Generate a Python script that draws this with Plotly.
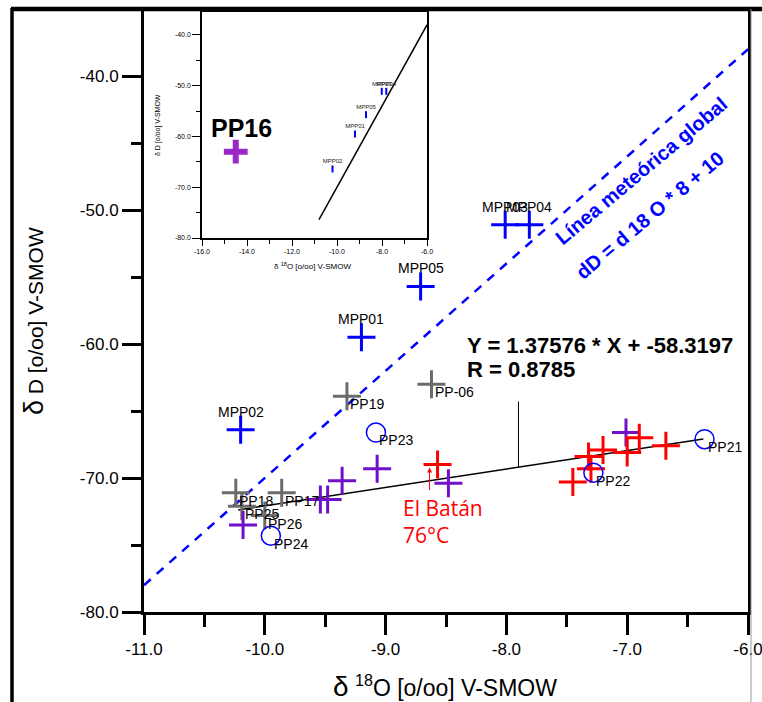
import plotly.graph_objects as go

# ---- data -------------------------------------------------------------
mpp_names = ["MPP02", "MPP01", "MPP05", "MPP03", "MPP04"]
mpp_x = [-10.2, -9.2, -8.71, -8.01, -7.81]
mpp_y = [-66.4, -59.5, -55.7, -51.1, -51.1]

grey_names = ["PP19", "PP-06", "PP18", "PP17", "PP25", "PP26"]
grey_x = [-9.32, -8.62, -10.24, -9.86, -10.19, -10.0]
grey_y = [-63.9, -63.0, -71.1, -71.1, -72.1, -72.8]

purple_x = [-10.18, -9.54, -9.48, -9.36, -9.07, -8.48, -7.01]
purple_y = [-73.5, -71.6, -71.6, -70.2, -69.3, -70.4, -66.6]

red_x = [-8.57, -7.45, -7.32, -7.30, -7.20, -7.00, -6.90, -6.68]
red_y = [-69.0, -70.3, -68.4, -69.3, -67.9, -68.1, -67.0, -67.6]

circle_names = ["PP23", "PP24", "PP22", "PP21"]
circle_x = [-9.08, -9.95, -7.28, -6.36]
circle_y = [-66.6, -74.3, -69.6, -67.1]

pp16_x = [-14.5]
pp16_y = [-63.0]

# regression fit and global meteoric water line
fit_slope = 1.37576
fit_intercept = -58.3197
fit_r = 0.8785
fit_x = [-10.22, -6.37]
gmwl_slope = 8
gmwl_intercept = 10
gmwl_x = [-11.0, -6.0]
gmwl_inset_x = [-10.8, -6.0]
leader_x = -7.9
leader_top = -64.3

x_ticks = [-11, -10, -9, -8, -7, -6]
y_ticks = [-80, -70, -60, -50, -40]
inset_x_ticks = [-16, -14, -12, -10, -8, -6]
inset_y_ticks = [-80, -70, -60, -50, -40]

# ---- styling ----------------------------------------------------------
BLUE = "#0000ff"
GREY = "#6b6b6b"
PURPLE = "#7010c8"
RED = "#ff0000"
FONT = "Liberation Sans, Arial, sans-serif"

W, H = 762, 702
ML, MR, MT, MB = 144, 14, 10, 90
PW, PH = W - ML - MR, H - MT - MB


def px(xp):
    return (xp - ML) / PW


def py(yp):
    return (H - MB - yp) / PH


def fmt(vals):
    return [f"{v:.1f}" for v in vals]


def cross(x, y, color, size=20, width=3, xa="x", ya="y", name=""):
    return go.Scatter(
        x=x, y=y, mode="markers", xaxis=xa, yaxis=ya, name=name,
        marker=dict(symbol="cross-thin", size=size,
                    line=dict(color=color, width=width)),
        hoverinfo="x+y", showlegend=False,
    )


fig = go.Figure()

# global meteoric water line (main)
fig.add_trace(go.Scatter(
    x=gmwl_x, y=[gmwl_slope * v + gmwl_intercept for v in gmwl_x],
    mode="lines", line=dict(color=BLUE, width=2.5, dash="9px,8px"),
    showlegend=False, hoverinfo="skip"))

# regression line
fig.add_trace(go.Scatter(
    x=fit_x, y=[fit_slope * v + fit_intercept for v in fit_x],
    mode="lines", line=dict(color="black", width=1.5),
    showlegend=False, hoverinfo="skip"))

# leader from the equation label down to the fit
fig.add_trace(go.Scatter(
    x=[leader_x, leader_x],
    y=[leader_top, fit_slope * leader_x + fit_intercept],
    mode="lines", line=dict(color="black", width=1),
    showlegend=False, hoverinfo="skip"))

fig.add_trace(cross(grey_x, grey_y, GREY, name="grey"))
fig.add_trace(cross(purple_x, purple_y, PURPLE, name="purple"))
fig.add_trace(cross(red_x, red_y, RED, name="red"))
fig.add_trace(cross(mpp_x, mpp_y, BLUE, name="MPP"))
fig.add_trace(go.Scatter(
    x=circle_x, y=circle_y, mode="markers", showlegend=False,
    marker=dict(symbol="circle-open", size=19,
                line=dict(color=BLUE, width=1.5), color=BLUE)))

# ---- inset ------------------------------------------------------------
fig.add_trace(go.Scatter(
    x=gmwl_inset_x, y=[gmwl_slope * v + gmwl_intercept for v in gmwl_inset_x],
    xaxis="x2", yaxis="y2", mode="lines",
    line=dict(color="black", width=1.5), showlegend=False, hoverinfo="skip"))
fig.add_trace(go.Scatter(
    x=mpp_x, y=mpp_y, xaxis="x2", yaxis="y2", mode="markers+text",
    text=mpp_names, textposition="top center",
    textfont=dict(family=FONT, size=6, color="#222"),
    marker=dict(symbol="line-ns", size=5, line=dict(color=BLUE, width=2)),
    showlegend=False))
fig.add_trace(cross(pp16_x, pp16_y, "#9a28c8", size=17, width=6,
                    xa="x2", ya="y2", name="PP16"))

annotations = []

# point labels
for n, x, y in zip(mpp_names, mpp_x, mpp_y):
    annotations.append(dict(x=x, y=y, text=n, showarrow=False, yshift=18,
                            xanchor="center", yanchor="middle",
                            font=dict(family=FONT, size=14, color="black")))
for n, x, y in zip(grey_names + circle_names, grey_x + circle_x,
                   grey_y + circle_y):
    annotations.append(dict(x=x, y=y, text=n, showarrow=False, xshift=1,
                            yshift=-8, xanchor="left", yanchor="middle",
                            font=dict(family=FONT, size=14, color="black")))

# El Batán
annotations.append(dict(x=red_x[0], y=red_y[0], xshift=-8, yshift=-3,
                        text="", showarrow=True, ax=0, ay=24,
                        arrowhead=2, arrowsize=1, arrowwidth=1,
                        arrowcolor=RED))
annotations.append(dict(x=red_x[0], y=red_y[0], xshift=-37, yshift=-57,
                        text="El Batán<br>76°C", showarrow=False,
                        xanchor="left", yanchor="middle", align="left",
                        font=dict(family="Open Sans, sans-serif", size=21,
                                  color=RED)))

# regression equation
annotations.append(dict(
    xref="paper", yref="paper", x=px(465), y=py(345),
    text=f"<b>Y = {fit_slope} * X + {fit_intercept}</b>",
    showarrow=False, xanchor="left", yanchor="middle",
    font=dict(family=FONT, size=22, color="black")))
annotations.append(dict(
    xref="paper", yref="paper", x=px(465), y=py(370),
    text=f"<b>R = {fit_r}</b>",
    showarrow=False, xanchor="left", yanchor="middle",
    font=dict(family=FONT, size=22, color="black")))

# meteoric line label
annotations.append(dict(
    xref="paper", yref="paper", x=px(641), y=py(171), textangle=-40,
    xanchor="center", yanchor="middle",
    text="<b>Línea meteórica global</b>", showarrow=False,
    font=dict(family=FONT, size=20, color=BLUE)))
annotations.append(dict(
    xref="paper", yref="paper", x=px(650), y=py(215), textangle=-40,
    xanchor="center", yanchor="middle",
    text=f"<b>dD = d 18 O * {gmwl_slope} + {gmwl_intercept}</b>",
    showarrow=False, font=dict(family=FONT, size=20, color=BLUE)))

# axis titles
annotations.append(dict(
    xref="paper", yref="paper", x=px(445), y=py(686),
    xanchor="center", yanchor="middle",
    text="<span style='font-size:28px'>δ</span> <sup>18</sup>O [o/oo] V-SMOW",
    showarrow=False, font=dict(family=FONT, size=23, color="black")))
annotations.append(dict(
    xref="paper", yref="paper", x=px(34), y=py(321), textangle=-90,
    xanchor="center", yanchor="middle",
    text="<span style='font-size:27px'>δ</span> D [o/oo] V-SMOW",
    showarrow=False, font=dict(family=FONT, size=21, color="black")))

# inset titles and PP16 label
annotations.append(dict(
    xref="paper", yref="paper", x=px(312), y=py(266),
    xanchor="center", yanchor="middle",
    text="δ <sup>18</sup>O [o/oo] V-SMOW", showarrow=False,
    font=dict(family=FONT, size=8, color="black")))
annotations.append(dict(
    xref="paper", yref="paper", x=px(158), y=py(125), textangle=-90,
    xanchor="center", yanchor="middle",
    text="δ D [o/oo] V-SMOW", showarrow=False,
    font=dict(family=FONT, size=7, color="black")))
annotations.append(dict(
    x=pp16_x[0], y=pp16_y[0], xref="x2", yref="y2", yshift=24, xshift=6,
    xanchor="center", yanchor="middle",
    text="<b>PP16</b>", showarrow=False,
    font=dict(family=FONT, size=25, color="black")))

# frame
shapes = [
    dict(type="line", xref="paper", yref="paper", x0=px(12), x1=px(12),
         y0=py(8), y1=py(702), line=dict(color="black", width=3.5)),
    dict(type="line", xref="paper", yref="paper", x0=px(11), x1=px(762),
         y0=py(9), y1=py(9), line=dict(color="black", width=4.5)),
    dict(type="line", xref="paper", yref="paper", x0=px(751), x1=px(751),
         y0=py(9), y1=py(702), line=dict(color="#999", width=1)),
]

ax_common = dict(showgrid=False, zeroline=False, showline=True,
                 linecolor="black", ticks="outside", tickcolor="black",
                 automargin=False, tickmode="array",
                 ticklabeloverflow="allow")

fig.update_layout(
    width=W, height=H,
    margin=dict(l=ML, r=MR, t=MT, b=MB, pad=0, autoexpand=False),
    paper_bgcolor="white", plot_bgcolor="white",
    showlegend=False,
    annotations=annotations, shapes=shapes,
    xaxis=dict(**ax_common, range=[-11, -6], tickvals=x_ticks,
               ticktext=fmt(x_ticks), linewidth=3, tickwidth=3, ticklen=20,
               mirror=True,
               minor=dict(dtick=0.5, ticks="outside", ticklen=12,
                          tickwidth=3, tickcolor="black"),
               tickfont=dict(family=FONT, size=17, color="black")),
    yaxis=dict(**ax_common, range=[-80, -35.07], tickvals=y_ticks,
               ticktext=fmt(y_ticks), linewidth=3, tickwidth=3, ticklen=19,
               mirror=True,
               minor=dict(dtick=5, ticks="outside", ticklen=10,
                          tickwidth=3, tickcolor="black"),
               tickfont=dict(family=FONT, size=17, color="black")),
    xaxis2=dict(**ax_common, domain=[px(202), px(427)], anchor="y2",
                range=[-16, -6], tickvals=inset_x_ticks,
                ticktext=fmt(inset_x_ticks),
                linewidth=1.5, tickwidth=1, ticklen=6, mirror=True,
                minor=dict(dtick=1, ticks="outside", ticklen=4,
                           tickwidth=1, tickcolor="black"),
                tickfont=dict(family=FONT, size=7, color="black")),
    yaxis2=dict(**ax_common, domain=[py(238), py(12)], anchor="x2",
                range=[-80, -35.47], tickvals=inset_y_ticks,
                ticktext=fmt(inset_y_ticks),
                linewidth=1.5, tickwidth=1, ticklen=8,
                mirror=True,
                minor=dict(dtick=5, ticks="outside", ticklen=4,
                           tickwidth=1, tickcolor="black"),
                tickfont=dict(family=FONT, size=7, color="black")),
)

fig.write_html("out.html")
